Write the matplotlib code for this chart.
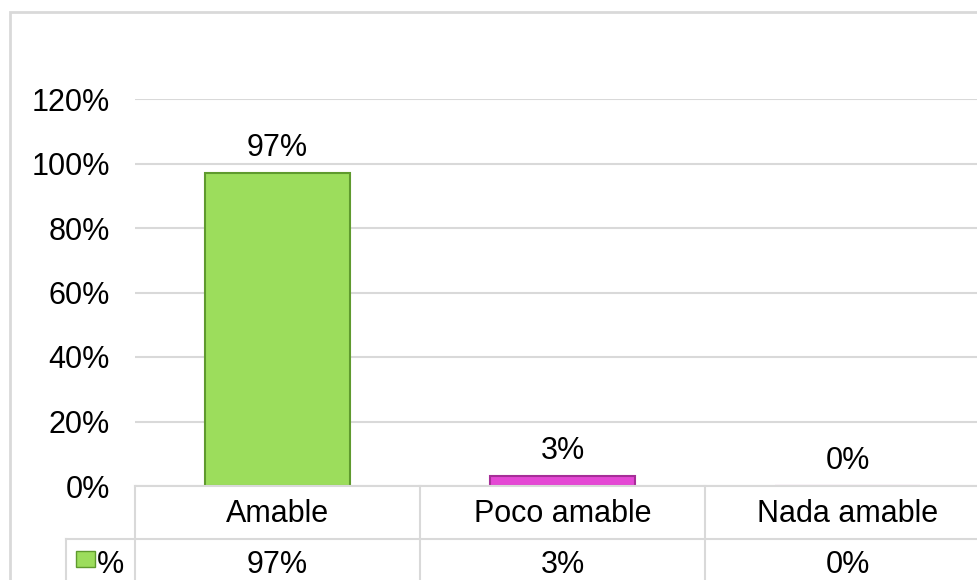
import matplotlib
matplotlib.use("Agg")
import matplotlib.pyplot as plt
from matplotlib.patches import Rectangle
from matplotlib.lines import Line2D

categories = ["Amable", "Poco amable", "Nada amable"]
values = [0.97, 0.03, 0.00]
value_labels = ["97%", "3%", "0%"]
series_name = "%"
yticks = [0, 0.2, 0.4, 0.6, 0.8, 1.0, 1.2]
ytick_labels = ["0%", "20%", "40%", "60%", "80%", "100%", "120%"]

W, H = 977, 580
plt.rcParams['font.family'] = ['Liberation Sans', 'DejaVu Sans']
FS = 22
fig = plt.figure(figsize=(W / 100, H / 100), dpi=100)

def fx(px):
    return px / W

def fy(py):
    return 1 - py / H

grid_c = "#d9d9d9"
x_left, x_right = 135, 990
y_zero, y_top = 486, 99
ax = fig.add_axes([fx(x_left), fy(y_zero), fx(x_right - x_left), (y_zero - y_top) / H])
ax.set_xlim(-0.5, 2.5)
ax.set_ylim(0, 1.2)
for s in ax.spines.values():
    s.set_visible(False)
ax.set_yticks(yticks)
ax.set_yticklabels(ytick_labels, fontsize=FS, color="black")
ax.tick_params(axis="y", length=0, pad=18)
ax.set_xticks([])
ax.yaxis.grid(True, color=grid_c, linewidth=1.5)
ax.set_axisbelow(True)

faces = ["#9CDD5C", "#E448D4"]
edges = ["#5F9A2E", "#A62E98"]
bar_colors = [faces[0], faces[1], faces[1]]
edge_colors = [edges[0], edges[1], edges[1]]
bars = ax.bar(range(len(categories)), values, width=0.51,
              color=bar_colors, edgecolor=edge_colors, linewidth=1.5, zorder=3)
for i, (v, lab) in enumerate(zip(values, value_labels)):
    ax.annotate(lab, (i, v), xytext=(0, 18), textcoords="offset points",
                ha="center", va="center", fontsize=FS, color="black")

# data table
row_sep = 539
bottom = 600
tbl = [
    Line2D([fx(x_left), fx(x_right)], [fy(y_zero), fy(y_zero)]),
    Line2D([fx(66), fx(x_right)], [fy(row_sep), fy(row_sep)]),
    Line2D([fx(66), fx(66)], [fy(row_sep), fy(bottom)]),
]
for k in range(4):
    xp = x_left + k * 285
    tbl.append(Line2D([fx(xp), fx(xp)], [fy(y_zero), fy(bottom)]))
for ln in tbl:
    ln.set_color(grid_c)
    ln.set_linewidth(1.5)
    fig.add_artist(ln)

trans = ax.get_xaxis_transform()
for i, (c, lab) in enumerate(zip(categories, value_labels)):
    ax.text(i, (y_zero - 514) / (y_zero - y_top), c, transform=trans,
            ha="center", va="center", fontsize=FS, clip_on=False)
    ax.text(i, (y_zero - 565) / (y_zero - y_top), lab, transform=trans,
            ha="center", va="center", fontsize=FS, clip_on=False)

fig.add_artist(Rectangle((fx(76), fy(567)), fx(19), (567 - 551) / H,
                         facecolor=faces[0], edgecolor=edges[0], linewidth=1,
                         transform=fig.transFigure))
fig.text(fx(110), fy(565), series_name, ha="center", va="center", fontsize=FS)

# outer chart border
fig.add_artist(Rectangle((fx(10), fy(620)), fx(1000), (620 - 12) / H,
                         facecolor="none", edgecolor=grid_c, linewidth=2,
                         transform=fig.transFigure))

fig.savefig("out.png", dpi=100)
